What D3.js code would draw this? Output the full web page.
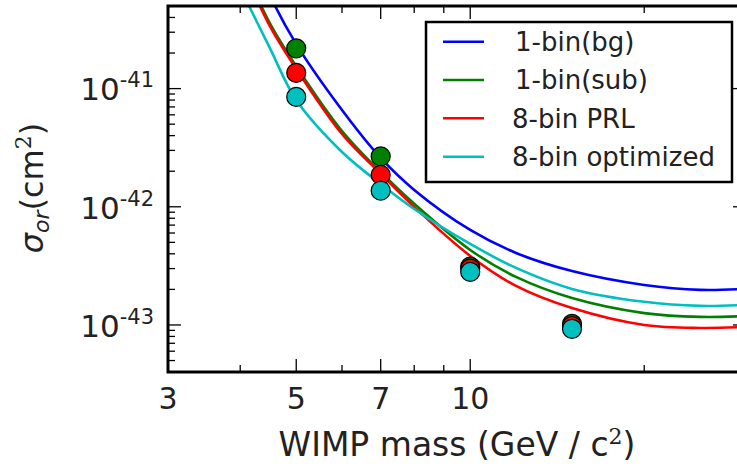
<!DOCTYPE html>
<html><head><meta charset="utf-8">
<script src="https://cdn.jsdelivr.net/npm/d3@7"></script>
<style>
body{margin:0;background:#fff;}
svg{display:block;font-family:"DejaVu Sans",sans-serif;}
</style>
</head><body>
<svg id="chart" width="737" height="474"></svg>
<script>
// ---- data ----
const curveMasses = [4, 4.5, 5, 6, 7, 8, 10, 12, 15, 20, 25, 30];
const bgLimit  = [2.67e-40, 6.20e-41, 2.38e-41, 6.59e-42, 2.59e-42, 1.39e-42, 6.37e-43, 4.07e-43, 2.86e-43, 2.18e-43, 1.98e-43, 2.02e-43];
const subLimit = [1.22e-40, 3.59e-41, 1.55e-41, 4.38e-42, 1.97e-42, 1.06e-42, 4.31e-43, 2.55e-43, 1.69e-43, 1.26e-43, 1.17e-43, 1.19e-43];
const prlLimit = [1.18e-40, 3.39e-41, 1.47e-41, 4.13e-42, 1.90e-42, 9.97e-43, 3.84e-43, 2.14e-43, 1.39e-43, 1.00e-43, 9.44e-44, 9.62e-44];
const optLimit = [7.10e-41, 2.21e-41, 8.01e-42, 2.91e-42, 1.56e-42, 9.58e-43, 4.85e-43, 3.04e-43, 2.02e-43, 1.57e-43, 1.45e-43, 1.48e-43];

const pointMasses = [5, 7, 10, 15];
const subPoints = [2.19e-41, 2.67e-42, 3.12e-43, 1.02e-43];
const prlPoints = [1.36e-41, 1.86e-42, 3.00e-43, 9.8e-44];
const optPoints = [8.5e-42, 1.37e-42, 2.81e-43, 9.27e-44];

const seriesNames  = ["1-bin(bg)", "1-bin(sub)", "8-bin PRL", "8-bin optimized"];
const seriesColors = ["#0000ff", "#008000", "#ff0000", "#00bfbf"];

const xMajorTicks = [3, 5, 7, 10];
const xMinorTicks = [4, 6, 8, 9, 20];
const xTickLabels = ["3", "5", "7", "10"];
const yMajorExponents = [-43, -42, -41];

// ---- layout ----
const L = 168, T = 6, R = 746, B = 372;
const svg = d3.select("#chart");

const x = d3.scaleLog().domain([3, 30]).range([L, R]);
const y = d3.scaleLog().domain([4e-44, 5e-41]).range([B, T]);

svg.append("defs").append("clipPath").attr("id", "plotclip")
  .append("rect").attr("x", L).attr("y", T).attr("width", R - L).attr("height", B - T);

const plot = svg.append("g").attr("clip-path", "url(#plotclip)");

// curves
const curves = [bgLimit, subLimit, prlLimit, optLimit];
const line = d3.line()
  .x(d => x(d[0])).y(d => y(d[1]))
  .curve(d3.curveCatmullRom.alpha(0.5));
curves.forEach((vals, i) => {
  plot.append("path")
    .datum(curveMasses.map((m, j) => [m, vals[j]]))
    .attr("d", line)
    .attr("fill", "none")
    .attr("stroke", seriesColors[i])
    .attr("stroke-width", 2.6);
});

// points
const pointSets = [[subPoints, seriesColors[1]], [prlPoints, seriesColors[2]], [optPoints, seriesColors[3]]];
pointSets.forEach(([vals, col]) => {
  plot.selectAll(null)
    .data(pointMasses.map((m, j) => [m, vals[j]]))
    .enter().append("circle")
    .attr("cx", d => x(d[0])).attr("cy", d => y(d[1]))
    .attr("r", 9.5)
    .attr("fill", col)
    .attr("stroke", "#000").attr("stroke-width", 1.2);
});

// ticks
const tickG = svg.append("g").attr("stroke", "#000").attr("stroke-width", 1.3);
const majorLen = 13, minorLen = 7;
function xTick(v, len) {
  tickG.append("line").attr("x1", x(v)).attr("x2", x(v)).attr("y1", B).attr("y2", B - len);
  tickG.append("line").attr("x1", x(v)).attr("x2", x(v)).attr("y1", T).attr("y2", T + len);
}
xMajorTicks.forEach(v => xTick(v, majorLen));
xMinorTicks.forEach(v => xTick(v, minorLen));

y.ticks().forEach(v => {
  const e = Math.floor(Math.log10(v) + 1e-9);
  const mant = Math.round(v / Math.pow(10, e));
  const len = mant === 1 ? majorLen : minorLen;
  tickG.append("line").attr("x1", L).attr("x2", L + len).attr("y1", y(v)).attr("y2", y(v));
  tickG.append("line").attr("x1", R).attr("x2", R - len).attr("y1", y(v)).attr("y2", y(v));
});

// frame
svg.append("rect").attr("x", L).attr("y", T).attr("width", R - L).attr("height", B - T)
  .attr("fill", "none").attr("stroke", "#000").attr("stroke-width", 3);

// x tick labels
svg.append("g").selectAll("text").data(xMajorTicks).enter().append("text")
  .attr("x", d => x(d)).attr("y", 387).attr("dy", "0.72em")
  .attr("text-anchor", "middle").attr("font-size", 30).attr("fill", "#222")
  .text((d, i) => xTickLabels[i]);

// y tick labels
yMajorExponents.forEach(e => {
  const t = svg.append("text")
    .attr("x", 154).attr("y", y(Math.pow(10, e))).attr("dy", "0.38em")
    .attr("text-anchor", "end").attr("font-size", 31).attr("fill", "#222");
  t.append("tspan").text("10");
  t.append("tspan").attr("font-size", 21).attr("dy", "-0.62em").text(String(e));
});

// axis titles
const xl = svg.append("text").attr("x", 457).attr("y", 456)
  .attr("text-anchor", "middle").attr("font-size", 33).attr("fill", "#222");
xl.append("tspan").text("WIMP mass (GeV / c");
xl.append("tspan").attr("font-size", 22).attr("dy", "-0.55em").attr("font-family", "DejaVu Serif").text("2");
xl.append("tspan").attr("dy", "0.38em").text(")");

const yl = svg.append("text").attr("transform", "translate(43,188) rotate(-90)")
  .attr("text-anchor", "middle").attr("font-size", 32).attr("fill", "#222");
yl.append("tspan").attr("font-style", "italic").text("σ");
yl.append("tspan").attr("font-style", "italic").attr("font-size", 22).attr("dy", "0.25em").text("or");
yl.append("tspan").attr("dy", "-0.17em").text("(cm");
yl.append("tspan").attr("font-size", 22).attr("dy", "-0.55em").attr("font-family", "DejaVu Serif").text("2");
yl.append("tspan").attr("dy", "0.38em").text(")");

// legend
const lg = svg.append("g");
lg.append("rect").attr("x", 426).attr("y", 22).attr("width", 306).attr("height", 160)
  .attr("fill", "#fff").attr("stroke", "#000").attr("stroke-width", 2.5);
const rowY = [41.7, 80, 118.3, 156.7];
seriesNames.forEach((n, i) => {
  lg.append("line").attr("x1", 443).attr("x2", 484).attr("y1", rowY[i]).attr("y2", rowY[i])
    .attr("stroke", seriesColors[i]).attr("stroke-width", 2.6);
  lg.append("text").attr("x", i < 2 ? 515 : 512).attr("y", rowY[i]).attr("dy", "0.36em")
    .attr("font-size", 26).attr("fill", "#222").text(n);
});
</script>
</body></html>
